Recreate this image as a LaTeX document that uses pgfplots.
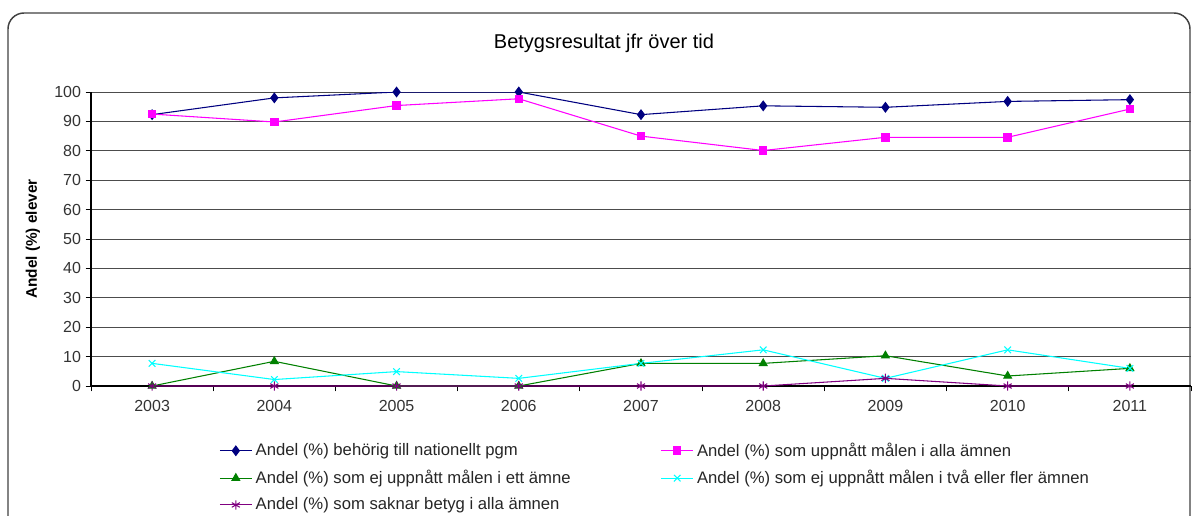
\documentclass[border=0pt]{standalone}
\usepackage{pgfplots}
\pgfplotsset{compat=1.18}
\usepackage{fontspec}
\setmainfont{Liberation Sans}
\definecolor{cnavy}{HTML}{000080}
\definecolor{cmag}{HTML}{FF00FF}
\definecolor{cgreen}{HTML}{008000}
\definecolor{ccyan}{HTML}{00FFFF}
\definecolor{cpurple}{HTML}{800080}
\begin{document}
\begin{tikzpicture}
\useasboundingbox (0pt,0pt) rectangle (894.75pt,-386.25pt);
\clip (0pt,0pt) rectangle (894.75pt,-386.25pt);
\draw[black!75, line width=1.1pt, rounded corners=12pt] (6pt,-9.75pt) rectangle (892.5pt,-420pt);
\node[font=\fontsize{15}{18}\selectfont] at (453pt,-32.5pt) {Betygsresultat jfr över tid};
\begin{axis}[
  at={(68.25pt,-289.5pt)}, anchor=south west,
  scale only axis, width=825pt, height=220.5pt,
  xmin=-0.5, xmax=8.5, ymin=0, ymax=100,
  axis x line*=bottom, axis y line*=left,
  axis line style={-, black, line width=0.8pt},
  ytick={0,10,...,100},
  xtick={-0.5,0.5,...,8.5}, xticklabels={},
  extra x ticks={0,1,2,3,4,5,6,7,8},
  extra x tick labels={2003,2004,2005,2006,2007,2008,2009,2010,2011},
  extra x tick style={major tick length=0pt, grid=none},
  tick align=outside, major tick length=4pt,
  tick style={black, line width=0.6pt},
  ymajorgrids, grid style={black!70, line width=0.6pt},
  /pgf/number format/assume math mode=true,
  tick label style={font=\fontsize{12}{14}\selectfont, text=black!80},
  xticklabel style={yshift=-7pt},
  ylabel={Andel (\%) elever},
  ylabel style={at={(axis description cs:-0.0527,0.5)}, anchor=center, font=\fontsize{11.5}{14}\selectfont\bfseries},
  every axis plot/.append style={line width=0.8pt},
  legend columns=2,
  legend cell align=left,
  legend image code/.code={\draw[mark repeat=2,mark phase=2,#1] plot coordinates {(0pt,0pt)(12pt,0pt)(24pt,0pt)};},
  legend style={at={(rel axis cs:0.1164,-0.184)}, anchor=north west, draw=none, fill=none,
    inner sep=0pt, row sep=5pt,
    font=\fontsize{12.5}{14}\selectfont, text=black!85,
    /tikz/every odd column/.append style={column sep=0.5pt},
    /tikz/every even column/.append style={column sep=65.5pt}},
]
\addplot[cnavy, mark=diamond*, mark size=3.5pt, mark options={fill=cnavy}] coordinates {
(0,92.3)(1,98.0)(2,100)(3,100)(4,92.3)(5,95.3)(6,94.8)(7,96.8)(8,97.4)};
\addlegendentry{Andel (\%) behörig till nationellt pgm}
\addplot[cmag, mark=square*, mark size=2.8pt, mark options={fill=cmag}] coordinates {
(0,92.5)(1,89.8)(2,95.4)(3,97.7)(4,85.0)(5,80.1)(6,84.6)(7,84.6)(8,94.2)};
\addlegendentry{Andel (\%) som uppnått målen i alla ämnen}
\addplot[cgreen, mark=triangle*, mark size=3.3pt, mark options={fill=cgreen}] coordinates {
(0,0)(1,8.4)(2,0)(3,0)(4,7.7)(5,7.7)(6,10.3)(7,3.4)(8,6.0)};
\addlegendentry{Andel (\%) som ej uppnått målen i ett ämne}
\addplot[ccyan, mark=x, mark size=3.5pt] coordinates {
(0,7.7)(1,2.2)(2,4.9)(3,2.6)(4,7.7)(5,12.3)(6,2.6)(7,12.3)(8,6.0)};
\addlegendentry{Andel (\%) som ej uppnått målen i två eller fler ämnen}
\addplot[cpurple, mark=asterisk, mark size=3.5pt] coordinates {
(0,0)(1,0)(2,0)(3,0)(4,0)(5,0)(6,2.6)(7,0)(8,0)};
\addlegendentry{Andel (\%) som saknar betyg i alla ämnen}
\end{axis}
\end{tikzpicture}
\end{document}
